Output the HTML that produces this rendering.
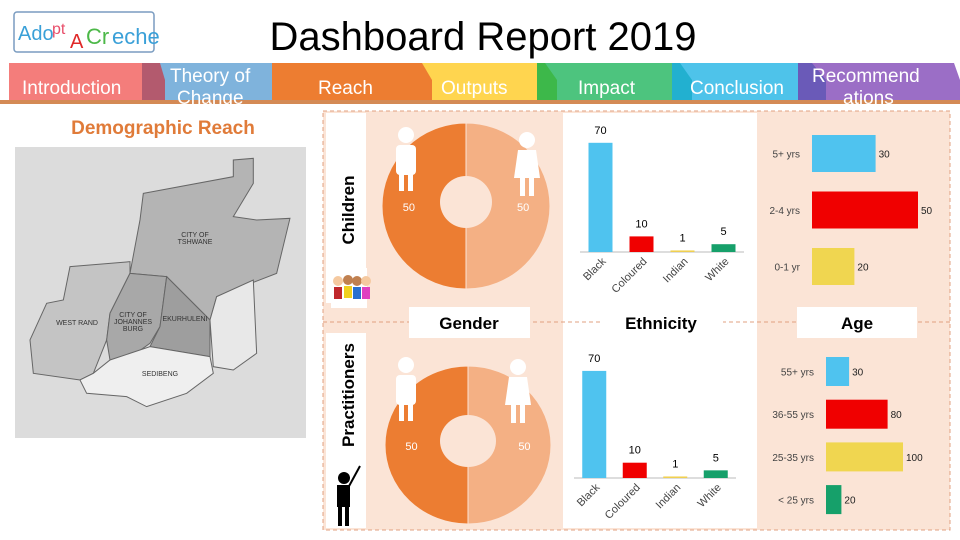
<!DOCTYPE html>
<html><head><meta charset="utf-8"><style>
body{margin:0;width:960px;height:540px;background:#fff;font-family:"Liberation Sans",sans-serif;overflow:hidden;position:relative}
.abs{position:absolute}
</style></head><body>
<svg class="abs" style="left:0;top:0" width="960" height="540">
 <!-- logo -->
 <g>
  <rect x="14" y="12" width="140" height="40" rx="3" fill="#fff" stroke="#7a9cc0" stroke-width="1.5"/>
  <text x="18" y="40" font-size="20" fill="#3aa0d8" font-family="Liberation Sans">Ado</text>
  <text x="52" y="34" font-size="16" fill="#e84e6a">pt</text>
  <text x="70" y="48" font-size="20" fill="#e02828">A</text>
  <text x="86" y="44" font-size="22" fill="#4cb848">Cr</text>
  <text x="112" y="44" font-size="22" fill="#3aa0d8">eche</text>
 </g>
 <text x="483" y="50" text-anchor="middle" font-size="40" fill="#000">Dashboard Report 2019</text>
 <!-- nav tabs -->
 <g font-size="19" fill="#fff">
  <rect x="9" y="115" width="0" height="0"/>
  <rect x="9" y="63" width="138" height="38" fill="#f47d7b"/>
  <polygon points="142,63 150,63 165,85 165,101 142,101" fill="#b35a6e"/>
  <rect x="147" y="63" width="125" height="38" fill="#7fb3dc"/>
  <polygon points="147,63 160,63 165,80 165,101 147,101" fill="#b35a6e"/>
  <rect x="272" y="63" width="140" height="38" fill="#ed7d31"/>
  <rect x="412" y="63" width="125" height="38" fill="#ffd54f"/>
  <polygon points="412,63 422,63 432,80 432,101 412,101" fill="#ed7d31"/>
  <rect x="537" y="63" width="135" height="38" fill="#4dc47e"/>
  <polygon points="537,63 545,63 557,80 557,101 537,101" fill="#3db84a"/>
  <rect x="672" y="63" width="126" height="38" fill="#4ec3ea"/>
  <polygon points="672,63 680,63 692,80 692,101 672,101" fill="#22b0d0"/>
  <rect x="798" y="63" width="152" height="38" fill="#9b6ec6"/>
  <polygon points="798,63 812,63 826,80 826,101 798,101" fill="#6a5ab8"/>
  <polygon points="950,63 954,63 960,80 960,101 950,101" fill="#9b6ec6"/>
  <rect x="0" y="100" width="960" height="4" fill="#d48a55"/>
  <text x="22" y="94">Introduction</text>
  <text x="170" y="82">Theory of</text>
  <text x="177" y="104">Change</text>
  <text x="318" y="94">Reach</text>
  <text x="441" y="94">Outputs</text>
  <text x="578" y="94">Impact</text>
  <text x="690" y="94">Conclusion</text>
  <text x="812" y="82">Recommend</text>
  <text x="843" y="104">ations</text>
  <rect x="0" y="104" width="960" height="6" fill="#fff"/>
 </g>
 <text x="163" y="134" text-anchor="middle" font-size="19" font-weight="bold" fill="#e07b39">Demographic Reach</text>
 <!-- map -->
 <g>
  <rect x="15" y="147" width="291" height="291" fill="#dcdcdc"/>
  <g transform="translate(0,140) scale(0.3333)" stroke="#666" stroke-width="3">
   <polygon points="430,160 700,110 700,60 760,55 760,130 700,230 770,240 870,235 830,400 650,470 630,540 500,410 390,400 420,240" fill="#b4b4b4"/>
   <polygon points="210,380 390,365 390,400 330,520 320,600 280,700 240,720 100,700 90,600 140,490 190,480" fill="#c4c4c4"/>
   <polygon points="390,400 500,410 480,560 450,610 380,660 330,660 320,600 330,520" fill="#a8a8a8"/>
   <polygon points="500,410 630,540 630,650 450,620 480,560" fill="#9e9e9e"/>
   <polygon points="240,720 280,700 330,660 450,620 630,650 640,700 560,760 440,800 380,770 260,760" fill="#efefef"/>
   <polygon points="630,540 650,470 760,420 770,640 700,690 640,680" fill="#e8e8e8"/>
  </g>
  <g font-size="7" fill="#333" text-anchor="middle">
   <text x="195" y="237">CITY OF</text><text x="195" y="244">TSHWANE</text>
   <text x="77" y="325">WEST RAND</text>
   <text x="133" y="317">CITY OF</text><text x="133" y="324">JOHANNES</text><text x="133" y="331">BURG</text>
   <text x="185" y="321">EKURHULENI</text>
   <text x="160" y="376">SEDIBENG</text>
  </g>
 </g>
 <!-- panel backgrounds -->
 <rect x="323" y="111" width="627" height="419" fill="#fbe4d6" stroke="#e0a080" stroke-dasharray="4,3"/>
 <rect x="326" y="113" width="40" height="190" fill="#fff"/>
 <rect x="326" y="333" width="40" height="195" fill="#fff"/>
 <rect x="563" y="113" width="194" height="415" fill="#fff"/>
 <line x1="323" y1="322" x2="950" y2="322" stroke="#e0a080" stroke-dasharray="4,3"/>
 <text transform="translate(354,210) rotate(-90)" text-anchor="middle" font-size="17" font-weight="bold">Children</text>
 <text transform="translate(354,395) rotate(-90)" text-anchor="middle" font-size="17" font-weight="bold">Practitioners</text>
 <g>
  <rect x="331" y="268" width="36" height="40" fill="#fff"/>
  <circle cx="338" cy="281" r="5" fill="#f5c9a0"/><rect x="334" y="287" width="8" height="12" fill="#c0282c"/>
  <circle cx="348" cy="280" r="5" fill="#c08050"/><rect x="344" y="286" width="8" height="12" fill="#f0d020"/>
  <circle cx="357" cy="281" r="5" fill="#c08050"/><rect x="353" y="287" width="8" height="12" fill="#2870d0"/>
  <circle cx="366" cy="281" r="5" fill="#f5c9a0"/><rect x="362" y="287" width="8" height="12" fill="#e040c0"/>
 </g>
 <g fill="#000">
  <circle cx="344" cy="478" r="6"/><rect x="337" y="485" width="13" height="22"/><rect x="338" y="506" width="4" height="20"/><rect x="345" y="506" width="4" height="20"/>
  <line x1="348" y1="488" x2="360" y2="466" stroke="#000" stroke-width="2"/>
 </g>
 <!-- label boxes -->
 <g font-size="17" font-weight="bold" text-anchor="middle">
  <rect x="409" y="307" width="121" height="31" fill="#fff"/><text x="469" y="329">Gender</text>
  <rect x="600" y="307" width="123" height="31" fill="#fff"/><text x="661" y="329">Ethnicity</text>
  <rect x="797" y="307" width="120" height="31" fill="#fff"/><text x="857" y="329">Age</text>
 </g>
 <g id="charts"></g>
</svg>
<script>
const genderLabels=["Male","Female"];
const genderChildren=[50,50];
const genderPract=[50,50];
const ethCats=["Black","Coloured","Indian","White"];
const ethChildren=[70,10,1,5];
const ethPract=[70,10,1,5];
const ethColors=["#4fc3ef","#f00000","#f0d050","#16a06a"];
const ageChildCats=["5+ yrs","2-4 yrs","0-1 yr"];
const ageChildVals=[30,50,20];
const agePractCats=["55+ yrs","36-55 yrs","25-35 yrs","< 25 yrs"];
const agePractVals=[30,80,100,20];
const ageChildColors=["#4fc3ef","#f00000","#f0d650"];
const agePractColors=["#4fc3ef","#f00000","#f0d650","#16a06a"];

const NS="http://www.w3.org/2000/svg";
const root=document.getElementById('charts');
function mk(tag,attrs,parent,text){const e=document.createElementNS(NS,tag);for(const k in attrs)e.setAttribute(k,attrs[k]);if(text!==undefined)e.textContent=text;(parent||root).appendChild(e);return e;}

function person(x,y,female){
 const g=mk('g',{fill:'#fff'});
 
 
 mk('circle',{cx:x,cy:y,r:8},g);
 if(female) mk('polygon',{points:`${x-9},${y+10} ${x+9},${y+10} ${x+13},${y+38} ${x-13},${y+38}`},g);
 else mk('rect',{x:x-10,y:y+10,width:20,height:30,rx:4},g);
 mk('rect',{x:x-7,y:y+36,width:5,height:20},g);
 mk('rect',{x:x+2,y:y+36,width:5,height:20},g);
}
function donut(cx,cy,rx,ry,hr,hry,vals){
 const total=vals.reduce((a,b)=>a+b,0);
 const cols=["#ec7d32","#f4b084"];
 let a0=-Math.PI/2;
 vals.forEach((v,i)=>{
  const a1=a0+v/total*2*Math.PI;
  // draw counter-clockwise from top: first slice on left
  const s0=-a0-Math.PI, s1=-a1-Math.PI;
  const p=(a,r1,r2)=>[cx+r1*Math.cos(a),cy+r2*Math.sin(a)];
  const A=p(-Math.PI/2 - (a0+Math.PI/2),rx,ry),B=p(-Math.PI/2-(a1+Math.PI/2),rx,ry);
  const large=(a1-a0)>Math.PI?1:0;
  const e=mk('path',{d:`M${cx},${cy} L${A[0]},${A[1]} A${rx},${ry} 0 ${large} 0 ${B[0]},${B[1]} Z`,fill:cols[i],stroke:'#fbe4d6','stroke-width':1});
  
  
  const mid=-Math.PI/2-((a0+a1)/2+Math.PI/2);
  const t=mk('text',{x:cx+rx*0.68*Math.cos(mid),y:cy+5,'text-anchor':'middle','font-size':11,fill:'#fff'},root,String(v));
  
  
  a0=a1;
 });
 mk('ellipse',{cx:cx,cy:cy-4,rx:hr,ry:hry,fill:'#fbe4d6'});
}
donut(466,206,84,83,26,26,genderChildren);
person(406,135,false);person(527,140,true);
donut(468,445,83,79,28,26,genderPract);
person(406,365,false);person(518,367,true);

function ethChart(vals,x0,spacing,base,scale,yLabel){
 mk('line',{x1:x0,y1:base,x2:x0+spacing*4,y2:base,stroke:'#bbb'});
 ethCats.forEach((c,i)=>{
  const cx=x0+spacing*(i+0.5);
  const h=vals[i]*scale;
  const r=mk('rect',{x:cx-12,y:base-h,width:24,height:h,fill:ethColors[i]});
  
  
  const t=mk('text',{x:cx,y:base-h-9,'text-anchor':'middle','font-size':11},root,String(vals[i]));
  
  
  const l=mk('text',{transform:`translate(${cx+6},${base+10}) rotate(-45)`,'text-anchor':'end','font-size':11,fill:'#444'},root,c);
  
  
 });
}
ethChart(ethChildren,580,41,252,1.56);
ethChart(ethPract,574,40.5,478,1.53);

function ageChart(cats,vals,cols,x0,scale,y0,step,h){
 cats.forEach((c,i)=>{
  const y=y0+i*step;
  const w=vals[i]*scale;
  const r=mk('rect',{x:x0,y:y,width:w,height:h,fill:cols[i]});
  
  
  const l=mk('text',{x:x0-12,y:y+h/2+4,'text-anchor':'end','font-size':10,fill:'#444'},root,c);
  
  
  const t=mk('text',{x:x0+w+3,y:y+h/2+4,'font-size':10,fill:'#222'},root,String(vals[i]));
  
  
 });
}
ageChart(ageChildCats,ageChildVals,ageChildColors,812,2.12,135,56.5,37);
ageChart(agePractCats,agePractVals,agePractColors,826,0.77,357,42.7,29);
</script>
</body></html>
